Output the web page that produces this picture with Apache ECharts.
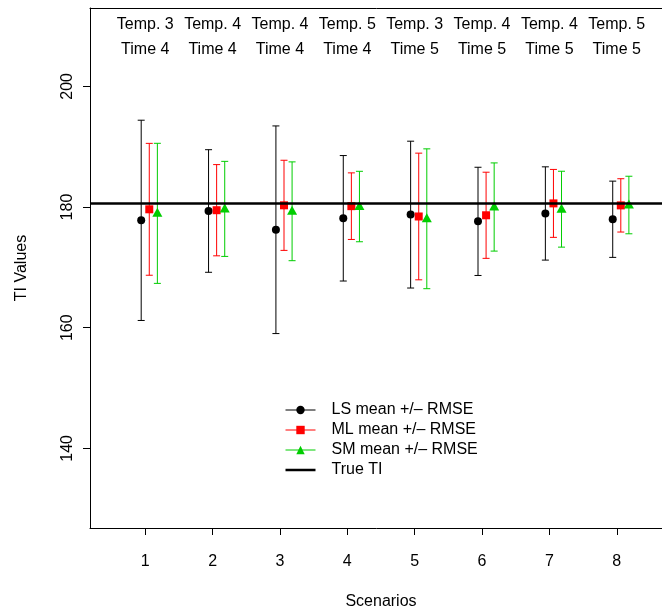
<!DOCTYPE html>
<html>
<head>
<meta charset="utf-8">
<script src="https://cdn.jsdelivr.net/npm/echarts@6/dist/echarts.min.js"></script>
<style>
  html, body { margin: 0; padding: 0; background: #ffffff; }
  #chart { width: 662px; height: 611px; }
</style>
</head>
<body>
<div id="chart"></div>
<script>
// ---- data ----
const scenarios = [1, 2, 3, 4, 5, 6, 7, 8];
const headerTemp = ['Temp. 3', 'Temp. 4', 'Temp. 4', 'Temp. 5', 'Temp. 3', 'Temp. 4', 'Temp. 4', 'Temp. 5'];
const headerTime = ['Time 4', 'Time 4', 'Time 4', 'Time 4', 'Time 5', 'Time 5', 'Time 5', 'Time 5'];
const yTicks = [140, 160, 180, 200];

const lsMean = [177.8, 179.35, 176.24, 178.14, 178.75, 177.63, 178.94, 177.98];
const lsRmse = [16.6, 10.16, 17.21, 10.4, 12.17, 8.97, 7.73, 6.32];
const mlMean = [179.63, 179.48, 180.29, 180.15, 178.44, 178.64, 180.61, 180.28];
const mlRmse = [10.93, 7.56, 7.47, 5.52, 10.5, 7.14, 5.63, 4.42];
const smMean = [178.96, 179.70, 179.30, 180.09, 178.06, 180.01, 179.65, 180.34];
const smRmse = [11.61, 7.88, 8.19, 5.84, 11.59, 7.31, 6.29, 4.77];
const trueTI = 180.7;

const seriesNames = ['LS mean +/\u2013 RMSE', 'ML mean +/\u2013 RMSE', 'SM mean +/\u2013 RMSE', 'True TI'];

// ---- styling / layout ----
const FONT = 'Liberation Sans, Arial, Helvetica, sans-serif';
const methods = [
  { name: seriesNames[0], mean: lsMean, rmse: lsRmse, color: '#000000', symbol: 'circle', size: 8, offset: -0.06, symOff: [0, 0] },
  { name: seriesNames[1], mean: mlMean, rmse: mlRmse, color: '#FF0000', symbol: 'rect', size: 8, offset: 0.06, symOff: [0, 0] },
  { name: seriesNames[2], mean: smMean, rmse: smRmse, color: '#00CD00', symbol: 'triangle', size: [10, 9], offset: 0.18, symOff: [0, -1] }
];

function errorBarRenderer(color) {
  return function (params, api) {
    const x = api.value(0);
    const lo = api.coord([x, api.value(1)]);
    const hi = api.coord([x, api.value(2)]);
    const w = 3.5;
    const st = { stroke: color, lineWidth: 1 };
    return {
      type: 'group',
      children: [
        { type: 'line', shape: { x1: lo[0], y1: lo[1], x2: hi[0], y2: hi[1] }, style: st },
        { type: 'line', shape: { x1: lo[0] - w, y1: lo[1], x2: lo[0] + w, y2: lo[1] }, style: st },
        { type: 'line', shape: { x1: hi[0] - w, y1: hi[1], x2: hi[0] + w, y2: hi[1] }, style: st }
      ]
    };
  };
}

const series = [];
series.push({
  name: seriesNames[3],
  type: 'line',
  data: [],
  symbol: 'none',
  lineStyle: { color: '#000000', width: 2.5 },
  itemStyle: { color: '#000000' },
  markLine: {
    silent: true,
    symbol: 'none',
    label: { show: false },
    lineStyle: { color: '#000000', width: 2.5, type: 'solid' },
    data: [{ yAxis: trueTI }]
  },
  z: 1
});
methods.forEach(m => {
  series.push({
    name: m.name + ' bars',
    type: 'custom',
    renderItem: errorBarRenderer(m.color),
    encode: { x: 0, y: [1, 2] },
    data: scenarios.map((s, i) => [s + m.offset, m.mean[i] - m.rmse[i], m.mean[i] + m.rmse[i]]),
    z: 2
  });
  series.push({
    name: m.name,
    type: 'line',
    data: scenarios.map((s, i) => [s + m.offset, m.mean[i]]),
    symbol: m.symbol,
    symbolSize: m.size,
    symbolOffset: m.symOff,
    showSymbol: true,
    lineStyle: { color: m.color, width: 1, opacity: 0 },
    itemStyle: { color: m.color },
    z: 3
  });
});

const chart = echarts.init(document.getElementById('chart'), null, { renderer: 'canvas' });
chart.setOption({
  animation: false,
  backgroundColor: '#ffffff',
  textStyle: { fontFamily: FONT },
  grid: { left: 90, right: -10, top: 8, bottom: 83, containLabel: false, outerBoundsMode: 'none' },
  legend: {
    orient: 'vertical',
    left: 285,
    top: 402,
    padding: 0,
    itemWidth: 30,
    itemHeight: 10.5,
    itemGap: 4,
    selectedMode: false,
    textStyle: { fontFamily: FONT, fontSize: 16, color: '#000000', lineHeight: 16, padding: [0, 0, 0, 11] },
    data: [
      { name: seriesNames[0], lineStyle: { opacity: 1, width: 1 } },
      { name: seriesNames[1], lineStyle: { opacity: 1, width: 1 } },
      { name: seriesNames[2], lineStyle: { opacity: 1, width: 1 } },
      { name: seriesNames[3], icon: 'path://M0,0 L30,0 L30,2.5 L0,2.5 Z', itemStyle: { color: '#000000' } }
    ]
  },
  xAxis: [
    {
      type: 'value',
      position: 'bottom',
      min: 0.18,
      max: 8.82,
      name: 'Scenarios',
      nameLocation: 'middle',
      nameGap: 66,
      nameTextStyle: { fontFamily: FONT, fontSize: 16, color: '#000000' },
      axisLine: { show: true, onZero: false, lineStyle: { color: '#000000', width: 1 } },
      axisTick: { show: true, length: 7, customValues: scenarios, lineStyle: { color: '#000000' } },
      axisLabel: { show: true, margin: 26, fontSize: 16, color: '#000000', fontFamily: FONT, customValues: scenarios },
      splitLine: { show: false }
    },
    {
      type: 'value',
      position: 'top',
      min: 0.18,
      max: 8.82,
      axisLine: { show: true, onZero: false, lineStyle: { color: '#000000', width: 1 } },
      axisTick: { show: false },
      axisLabel: {
        show: true,
        inside: true,
        margin: 4,
        fontSize: 16,
        lineHeight: 25,
        color: '#000000',
        fontFamily: FONT,
        customValues: scenarios,
        formatter: v => headerTemp[v - 1] + '\n' + headerTime[v - 1]
      },
      splitLine: { show: false }
    }
  ],
  yAxis: {
    type: 'value',
    min: 126.8,
    max: 213,
    name: 'TI Values',
    nameLocation: 'middle',
    nameGap: 60,
    nameRotate: 90,
    nameTextStyle: { fontFamily: FONT, fontSize: 16, color: '#000000' },
    axisLine: { show: true, onZero: false, lineStyle: { color: '#000000', width: 1 } },
    axisTick: { show: true, length: 7, customValues: yTicks, lineStyle: { color: '#000000' } },
    axisLabel: { show: true, rotate: 90, margin: 14, fontSize: 16, color: '#000000', fontFamily: FONT, customValues: yTicks },
    splitLine: { show: false }
  },
  series: series
});
</script>
</body>
</html>
